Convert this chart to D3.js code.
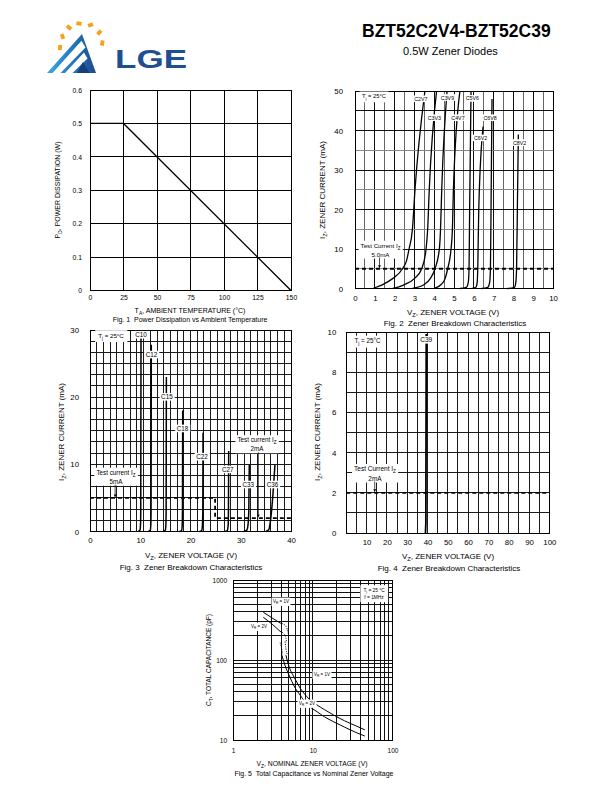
<!DOCTYPE html>
<html><head><meta charset="utf-8">
<script src="https://cdn.jsdelivr.net/npm/d3@7"></script>
<style>
body{margin:0;background:#fff}
svg{display:block}
text{font-family:"Liberation Sans",Arial,Helvetica,sans-serif;fill:#000}
</style>
</head><body>
<svg id="c" width="612" height="792"></svg>
<script>
// ================= DATA =================
const titleText = "BZT52C2V4-BZT52C39";
const subtitleText = "0.5W Zener Diodes";

// Fig 1 : power derating
const fig1Temp = [0, 25, 150];
const fig1Power = [0.5, 0.5, 0];
const fig1XTicks = [0, 25, 50, 75, 100, 125, 150];
const fig1YTicks = [0, 0.1, 0.2, 0.3, 0.4, 0.5, 0.6];

// Fig 2 : low voltage zener curves
const fig2Names = ["C2V7","C3V3","C3V9","C4V7","C5V6","C6V2","C6V8","C8V2"];
const fig2Volt = [
  [0.9, 1.4, 1.9, 2.4, 2.6, 2.73, 2.9, 3.03, 3.53],
  [1.9, 2.5, 3.0, 3.37, 3.59, 3.67, 3.75, 4.12],
  [2.9, 3.5, 3.8, 4.04, 4.26, 4.32, 4.38, 4.65],
  [4.0, 4.35, 4.55, 4.68, 4.85, 4.92, 4.97, 5.3],
  [5.3, 5.62, 5.72, 5.76, 5.79, 5.86],
  [5.9, 6.1, 6.17, 6.2, 6.25, 6.47],
  [6.4, 6.7, 6.8, 6.84, 6.87, 6.92],
  [7.7, 8.05, 8.12, 8.16, 8.2, 8.25]
];
const fig2Curr = [
  [0, 1, 2.5, 5, 7, 10, 15, 25, 50],
  [0, 1, 2.5, 5, 10, 15, 25, 50],
  [0, 1, 2.5, 5, 10, 15, 25, 50],
  [0, 1, 2.5, 5, 10, 15, 25, 50],
  [0, 0.3, 1.5, 5, 20, 50],
  [0, 0.3, 1.5, 5, 20, 41],
  [0, 0.3, 1.5, 5, 20, 48],
  [0, 0.3, 1.5, 5, 20, 39]
];
const fig2LabelV = [3.33, 4.01, 4.67, 5.2, 5.93, 6.34, 6.82, 8.31];
const fig2LabelI = [48, 43.2, 48.3, 43.2, 48.1, 38.1, 43.2, 36.9];
const fig2XTicks = [0,1,2,3,4,5,6,7,8,9,10];
const fig2YTicks = [0,10,20,30,40,50];
const fig2TestI = 5;

// Fig 3 : 10V..36V zener curves
const fig3Names = ["C10","C12","C15","C18","C22","C27","C33","C36"];
const fig3Volt = [
  [9.6, 9.95, 10.05, 10.1, 10.15],
  [11.6, 12.0, 12.1, 12.15, 12.2],
  [14.6, 15.0, 15.1, 15.15, 15.2],
  [17.8, 18.25, 18.35, 18.4, 18.45],
  [21.8, 22.25, 22.38, 22.45, 22.5],
  [26.9, 27.35, 27.5, 27.55, 27.6],
  [30.6, 31.2, 31.45, 31.6, 31.7],
  [35.0, 35.6, 35.9, 36.3, 36.8]
];
const fig3Curr = [
  [0, 0.2, 1, 3, 29.5],
  [0, 0.2, 1, 3, 27.8],
  [0, 0.2, 1, 3, 23],
  [0, 0.2, 1, 3, 18],
  [0, 0.2, 1, 3, 14.7],
  [0, 0.2, 1, 3, 12],
  [0, 0.2, 1, 3, 9.9],
  [0, 0.3, 1.5, 4.5, 9.9]
];
const fig3LabelV = [10.15, 12.24, 15.3, 18.4, 22.3, 27.4, 31.5, 36.3];
const fig3LabelI = [29.25, 26.3, 20.0, 15.3, 11.1, 9.2, 6.95, 6.95];
const fig3TestV = [0, 24.9, 24.9, 40];
const fig3TestI = [5, 5, 2, 2];
const fig3XTicks = [0, 10, 20, 30, 40];
const fig3YTicks = [0, 10, 20, 30];

// Fig 4 : C39
const fig4Names = ["C39"];
const fig4Volt = [39.0, 39.2, 39.4];
const fig4Curr = [0, 0.5, 9.9];
const fig4TestI = 2;
const fig4XTicks = [10,20,30,40,50,60,70,80,90,100];
const fig4YTicks = [0,2,4,6,8,10];

// Fig 5 : capacitance
const fig5V1a = [2.4, 3.1, 3.9];          const fig5C1a = [395, 335, 290];
const fig5V1d = [3.9, 4.5, 4.8, 5.0];     const fig5C1d = [290, 272, 240, 200];
const fig5V1e = [4.5, 4.6, 4.8];          const fig5C1e = [170, 140, 118];
const fig5V1  = [4.6, 5, 6, 7, 8, 9, 11.3, 14, 18.3, 25, 35, 45];
const fig5C1  = [115, 85, 58, 44, 37, 32.5, 27.4, 24, 20.5, 17.4, 15, 13.4];
const fig5V2a = [2.4, 3.1, 3.9];          const fig5C2a = [342, 280, 228];
const fig5V2d = [3.9, 4.3, 4.6, 4.7];     const fig5C2d = [228, 215, 190, 165];
const fig5V2e = [3.9, 4.1, 4.2];          const fig5C2e = [165, 135, 118];
const fig5V2  = [4.1, 4.5, 5, 6, 7, 8, 9, 11.3, 14, 18.3, 25, 35, 45];
const fig5C2  = [115, 85, 66, 45, 36, 30, 26.5, 22.6, 19.5, 16.9, 14.5, 12.4, 11.2];
const fig5XTicks = [1, 10, 100];
const fig5YTicks = [10, 100, 1000];

// ================= HELPERS =================
const FONT = '"Liberation Sans", Arial, Helvetica, sans-serif';
const svg = d3.select("#c");

function rich(g, x, y, parts, fs, anchor, rotate) {
  const t = g.append("text").attr("x", x).attr("y", y).attr("font-size", fs)
    .attr("text-anchor", anchor || "middle").style("white-space", "pre");
  if (rotate) t.attr("transform", `rotate(-90,${x},${y})`);
  let pend = 0;
  parts.forEach(p => {
    const isSub = typeof p !== "string";
    const ts = t.append("tspan").text(isSub ? p.sub : p);
    if (isSub) { ts.attr("font-size", fs * 0.72).attr("dy", fs * 0.3 + pend); pend = -fs * 0.3; }
    else { if (pend) ts.attr("dy", pend); pend = 0; }
  });
  return t;
}
function boxed(g, cx, cy, lines, fs, opts) {
  opts = opts || {};
  const gg = g.append("g");
  const rect = gg.append("rect").attr("fill", "#fff");
  const lh = opts.lh || fs * 1.3;
  const n = lines.length;
  const nodes = lines.map((ln, i) => rich(gg, cx, cy - (n - 1) * lh / 2 + i * lh + fs * 0.35, ln, fs, "middle"));
  let x0 = Infinity, y0 = Infinity, x1 = -Infinity, y1 = -Infinity;
  nodes.forEach(t => { const b = t.node().getBBox();
    x0 = Math.min(x0, b.x); y0 = Math.min(y0, b.y); x1 = Math.max(x1, b.x + b.width); y1 = Math.max(y1, b.y + b.height); });
  const px = opts.px != null ? opts.px : 1.5, py = opts.py != null ? opts.py : 0.3;
  rect.attr("x", x0 - px).attr("y", y0 - py).attr("width", x1 - x0 + 2 * px).attr("height", y1 - y0 + 2 * py);
  return {x0: x0 - px, y0: y0 - py, x1: x1 + px, y1: y1 + py};
}
function arrowDown(g, x, yA, yB) {
  g.append("line").attr("x1", x).attr("x2", x).attr("y1", yA).attr("y2", yB - 2.5).attr("stroke", "#000").attr("stroke-width", 0.7);
  g.append("path").attr("d", `M${x - 1.4},${yB - 3} L${x + 1.4},${yB - 3} L${x},${yB} Z`).attr("fill", "#000");
}
function axisText(g, axis, tx, ty, fs) {
  const a = g.append("g").attr("transform", `translate(${tx},${ty})`).call(axis);
  a.select(".domain").remove();
  a.selectAll(".tick line").remove();
  a.attr("font-family", FONT).attr("font-size", fs);
  a.selectAll("text").attr("fill", "#000");
  return a;
}
function grid(g, xs, ys, xv, yv, colorX, colorY) {
  const [xa, xb] = xs.range(), [ya, yb] = ys.range();
  xv.forEach(v => g.append("line").attr("x1", xs(v)).attr("x2", xs(v)).attr("y1", ya).attr("y2", yb)
    .attr("stroke", colorX ? colorX(v) : "#000").attr("stroke-width", 1).attr("shape-rendering", "crispEdges"));
  yv.forEach(v => g.append("line").attr("y1", ys(v)).attr("y2", ys(v)).attr("x1", xa).attr("x2", xb)
    .attr("stroke", colorY ? colorY(v) : "#000").attr("stroke-width", 1).attr("shape-rendering", "crispEdges"));
}
function frame(g, xs, ys) {
  const [xa, xb] = xs.range(), [ya, yb] = ys.range();
  g.append("rect").attr("x", Math.min(xa, xb)).attr("y", Math.min(ya, yb))
    .attr("width", Math.abs(xb - xa)).attr("height", Math.abs(yb - ya))
    .attr("fill", "none").attr("stroke", "#000").attr("stroke-width", 1).attr("shape-rendering", "crispEdges");
}

// ================= HEADER =================
(function header() {
  const defs = svg.append("defs");
  const gr = defs.append("linearGradient").attr("id", "lgeGrad").attr("x1", "0").attr("x2", "1").attr("y1", "0").attr("y2", "0");
  gr.append("stop").attr("offset", "0").attr("stop-color", "#38a9e3");
  gr.append("stop").attr("offset", "0.55").attr("stop-color", "#2474bb");
  gr.append("stop").attr("offset", "1").attr("stop-color", "#1b4b8d");
  const lg = svg.append("g");
  const dashes = [[60, 47.5, 95], [62.5, 36.5, 70], [69, 27.5, 40], [79, 23.5, 10], [90.5, 25, -18], [99.3, 32.5, -50], [102.3, 43, -80]];
  dashes.forEach(d => lg.append("rect").attr("x", -2.6).attr("y", -1.9).attr("width", 5.2).attr("height", 3.8)
    .attr("fill", "#f5a01e").attr("transform", `translate(${d[0]},${d[1]}) rotate(${d[2]})`));
  lg.append("polygon").attr("points", "47,73 82,34 96,73").attr("fill", "url(#lgeGrad)");
  lg.append("polygon").attr("points", "52.5,73 81.5,40.8 85.5,47.5 60.5,73").attr("fill", "#fff");
  lg.append("polygon").attr("points", "65,73 84,52.5 87.5,58.5 72.5,73").attr("fill", "#fff");
  lg.append("polygon").attr("points", "77,73 83,62 89.5,73").attr("fill", "#163f7e");
  lg.append("text").attr("x", 115).attr("y", 68).attr("font-size", 26.5).attr("font-weight", "bold")
    .attr("textLength", 72).attr("lengthAdjust", "spacingAndGlyphs").style("fill", "#1f4f8f").text("LGE");
  svg.append("text").attr("x", 362).attr("y", 37).attr("font-size", 17.5).attr("font-weight", "bold").text(titleText);
  svg.append("text").attr("x", 403).attr("y", 55).attr("font-size", 11).text(subtitleText);
})();

// ================= FIG 1 =================
(function fig1() {
  const g = svg.append("g");
  const x = d3.scaleLinear().domain([0, 150]).range([90, 291]);
  const y = d3.scaleLinear().domain([0, 0.6]).range([290.5, 90]);
  grid(g, x, y, fig1XTicks, fig1YTicks);
  frame(g, x, y);
  g.append("path").datum(d3.zip(fig1Temp, fig1Power))
    .attr("d", d3.line().x(d => x(d[0])).y(d => y(d[1])))
    .attr("fill", "none").attr("stroke", "#000").attr("stroke-width", 1.3);
  axisText(g, d3.axisBottom(x).tickValues(fig1XTicks).tickSize(0).tickPadding(5).tickFormat(d3.format("d")), 0, 290.5, 6.8);
  axisText(g, d3.axisLeft(y).tickValues(fig1YTicks).tickSize(0).tickPadding(8).tickFormat(d => d === 0 ? "0" : d3.format(".1f")(d)), 90, 0, 6.8);
  rich(g, 60, 190, ["P", {sub: "D"}, ", POWER DISSIPATION (W)"], 7, "middle", true);
  rich(g, 190, 313, ["T", {sub: "A"}, ", AMBIENT TEMPERATURE (°C)"], 7, "middle");
  rich(g, 190, 322.3, ["Fig. 1  Power Dissipation vs Ambient Temperature"], 7, "middle");
})();

// ================= FIG 2 =================
(function fig2() {
  const g = svg.append("g");
  const x = d3.scaleLinear().domain([0, 10]).range([355, 553]);
  const y = d3.scaleLinear().domain([0, 50]).range([288.5, 91]);
  grid(g, x, y, d3.range(0.5, 10, 0.5), d3.range(5, 50, 5),
    v => (Math.abs(v - Math.round(v)) < 0.01 ? "#111" : "#666"),
    v => (v % 10 === 0 || v === 45 ? "#111" : "#888"));
  frame(g, x, y);
  g.append("line").attr("x1", x(0)).attr("x2", x(10)).attr("y1", y(fig2TestI)).attr("y2", y(fig2TestI))
    .attr("stroke", "#000").attr("stroke-width", 1.8).attr("stroke-dasharray", "4,3");
  const line = d3.line().x(d => x(d[0])).y(d => y(d[1])).curve(d3.curveMonotoneX);
  fig2Names.forEach((n, i) => g.append("path").datum(d3.zip(fig2Volt[i], fig2Curr[i])).attr("d", line)
    .attr("fill", "none").attr("stroke", "#000").attr("stroke-width", 1.3));
  fig2Names.forEach((n, i) => boxed(g, x(fig2LabelV[i]), y(fig2LabelI[i]), [[n]], 5.3, {px: 1.5}));
  boxed(g, 374, 96, [["T", {sub: "j"}, " = 25°C"]], 5.8, {px: 2.5, py: 1.5});
  const b = boxed(g, 380.5, 250, [["Test Current I", {sub: "Z"}], ["5.0mA"]], 6.2, {px: 2, py: 1, lh: 8.8});
  arrowDown(g, 379.5, b.y1 - 1, y(fig2TestI) - 0.5);
  axisText(g, d3.axisBottom(x).tickValues(fig2XTicks).tickSize(0).tickPadding(7).tickFormat(d3.format("d")), 0, 288.5, 7.8);
  axisText(g, d3.axisLeft(y).tickValues(fig2YTicks).tickSize(0).tickPadding(12).tickFormat(d3.format("d")), 355, 0, 7.8);
  rich(g, 325, 190, ["I", {sub: "Z"}, ", ZENER CURRENT (mA)"], 8, "middle", true);
  rich(g, 453, 314.5, ["V", {sub: "Z"}, ", ZENER VOLTAGE (V)"], 8, "middle");
  rich(g, 455, 326, ["Fig. 2  Zener Breakdown Characteristics"], 8, "middle");
})();

// ================= FIG 3 =================
(function fig3() {
  const g = svg.append("g");
  const x = d3.scaleLinear().domain([0, 40]).range([90, 291]);
  const y = d3.scaleLinear().domain([0, 30]).range([531.5, 330]);
  grid(g, x, y, d3.range(1, 30).map(k => k * 40 / 30), d3.range(1, 18).map(k => k * 30 / 18),
    () => "#1a1a1a", () => "#1a1a1a");
  frame(g, x, y);
  g.append("path").datum(d3.zip(fig3TestV, fig3TestI)).attr("d", d3.line().x(d => x(d[0])).y(d => y(d[1])))
    .attr("fill", "none").attr("stroke", "#000").attr("stroke-width", 1.8).attr("stroke-dasharray", "4,3");
  const line = d3.line().x(d => x(d[0])).y(d => y(d[1])).curve(d3.curveMonotoneX);
  fig3Names.forEach((n, i) => g.append("path").datum(d3.zip(fig3Volt[i], fig3Curr[i])).attr("d", line)
    .attr("fill", "none").attr("stroke", "#000").attr("stroke-width", 1.5));
  fig3Names.forEach((n, i) => boxed(g, x(fig3LabelV[i]), y(fig3LabelI[i]), [[n]], 6.3, {px: 1.5}));
  boxed(g, 111, 335.5, [["T", {sub: "j"}, " = 25°C"]], 6.2, {px: 3, py: 1.5});
  const b1 = boxed(g, 116, 477, [["Test current I", {sub: "Z"}], ["5mA"]], 6.3, {px: 2, py: 1, lh: 9});
  arrowDown(g, x(5), b1.y1 - 1, y(5) - 0.5);
  const b2 = boxed(g, 257, 444.5, [["Test current I", {sub: "Z"}], ["2mA"]], 6.3, {px: 2, py: 1, lh: 9});
  arrowDown(g, x(33.5), b2.y1 - 1, y(2) - 0.5);
  axisText(g, d3.axisBottom(x).tickValues(fig3XTicks).tickSize(0).tickPadding(6).tickFormat(d3.format("d")), 0, 531.5, 7.8);
  axisText(g, d3.axisLeft(y).tickValues(fig3YTicks).tickSize(0).tickPadding(11).tickFormat(d3.format("d")), 90, 0, 7.8);
  rich(g, 64, 432, ["I", {sub: "Z"}, ", ZENER CURRENT (mA)"], 8, "middle", true);
  rich(g, 191, 557.5, ["V", {sub: "Z"}, ", ZENER VOLTAGE (V)"], 8, "middle");
  rich(g, 191, 570, ["Fig. 3  Zener Breakdown Characteristics"], 8, "middle");
})();

// ================= FIG 4 =================
(function fig4() {
  const g = svg.append("g");
  const x = d3.scaleLinear().domain([0, 100]).range([346.3, 549.3]);
  const y = d3.scaleLinear().domain([0, 10]).range([533, 332]);
  grid(g, x, y, d3.range(5, 100, 5), d3.range(1, 10, 1), () => "#1a1a1a", () => "#1a1a1a");
  frame(g, x, y);
  g.append("line").attr("x1", x(0)).attr("x2", x(100)).attr("y1", y(fig4TestI)).attr("y2", y(fig4TestI))
    .attr("stroke", "#000").attr("stroke-width", 1.8).attr("stroke-dasharray", "4,3");
  g.append("path").datum(d3.zip(fig4Volt, fig4Curr)).attr("d", d3.line().x(d => x(d[0])).y(d => y(d[1])))
    .attr("fill", "none").attr("stroke", "#000").attr("stroke-width", 1.8);
  boxed(g, x(39.4), y(9.6), [[fig4Names[0]]], 6.5, {px: 1.5});
  boxed(g, 367.5, 341, [["T", {sub: "j"}, " = 25°C"]], 6.3, {px: 3, py: 1.5});
  const b = boxed(g, 375, 473.5, [["Test Current I", {sub: "Z"}], ["2mA"]], 6.5, {px: 2, py: 1, lh: 9.5});
  arrowDown(g, x(14), b.y1 - 1, y(fig4TestI) - 0.5);
  axisText(g, d3.axisBottom(x).tickValues(fig4XTicks).tickSize(0).tickPadding(6).tickFormat(d3.format("d")), 0, 533, 7.8);
  axisText(g, d3.axisLeft(y).tickValues(fig4YTicks).tickSize(0).tickPadding(10).tickFormat(d3.format("d")), 346.3, 0, 7.8);
  rich(g, 320, 432, ["I", {sub: "Z"}, ", ZENER CURRENT (mA)"], 8, "middle", true);
  rich(g, 448, 558.5, ["V", {sub: "Z"}, ", ZENER VOLTAGE (V)"], 8, "middle");
  rich(g, 449, 571, ["Fig. 4  Zener Breakdown Characteristics"], 8, "middle");
})();

// ================= FIG 5 =================
(function fig5() {
  const g = svg.append("g");
  const x = d3.scaleLog().domain([1, 100]).range([233, 392.5]);
  const y = d3.scaleLog().domain([10, 1000]).range([740, 580]);
  const minor = (a, b) => { const r = []; for (let d = a; d < b; d *= 10) for (let k = 1; k < 10; k++) { const v = d * k; if (v > a) r.push(v); } return r; };
  grid(g, x, y, minor(1, 100), minor(10, 1000), () => "#111", () => "#111");
  frame(g, x, y);
  const line = d3.line().x(d => x(d[0])).y(d => y(d[1])).curve(d3.curveMonotoneX);
  const solid = [[fig5V1a, fig5C1a], [fig5V1, fig5C1], [fig5V2a, fig5C2a], [fig5V2, fig5C2]];
  const dotted = [[fig5V1d, fig5C1d], [fig5V1e, fig5C1e], [fig5V2d, fig5C2d], [fig5V2e, fig5C2e]];
  solid.forEach(s => g.append("path").datum(d3.zip(s[0], s[1])).attr("d", line)
    .attr("fill", "none").attr("stroke", "#000").attr("stroke-width", 1));
  dotted.forEach(s => g.append("path").datum(d3.zip(s[0], s[1])).attr("d", line)
    .attr("fill", "none").attr("stroke", "#000").attr("stroke-width", 1).attr("stroke-dasharray", "1,1.3"));
  boxed(g, 374, 593.5, [["T", {sub: "j"}, " = 25 °C"], ["f = 1MHz"]], 4.8, {px: 3, py: 2.5, lh: 7});
  boxed(g, 281, 601, [["V", {sub: "R"}, " = 1V"]], 4.5, {px: 1.5, py: 1});
  boxed(g, 259, 626, [["V", {sub: "R"}, " = 2V"]], 4.5, {px: 1.5, py: 1});
  boxed(g, 322, 674, [["V", {sub: "R"}, " = 1V"]], 4.5, {px: 1.5, py: 1});
  boxed(g, 307, 703, [["V", {sub: "R"}, " = 2V"]], 4.5, {px: 1.5, py: 1});
  axisText(g, d3.axisBottom(x).tickValues(fig5XTicks).tickSize(0).tickPadding(8).tickFormat(d3.format("d")), 0, 740, 6.5);
  axisText(g, d3.axisLeft(y).tickValues(fig5YTicks).tickSize(0).tickPadding(6).tickFormat(d3.format("d")), 233, 0, 6.5);
  rich(g, 211, 660, ["C", {sub: "T"}, ", TOTAL CAPACITANCE (pF)"], 6.5, "middle", true);
  rich(g, 312, 766, ["V", {sub: "Z"}, ", NOMINAL ZENER VOLTAGE (V)"], 6.8, "middle");
  rich(g, 314, 776, ["Fig. 5  Total Capacitance vs Nominal Zener Voltage"], 7, "middle");
})();
</script>
</body></html>
